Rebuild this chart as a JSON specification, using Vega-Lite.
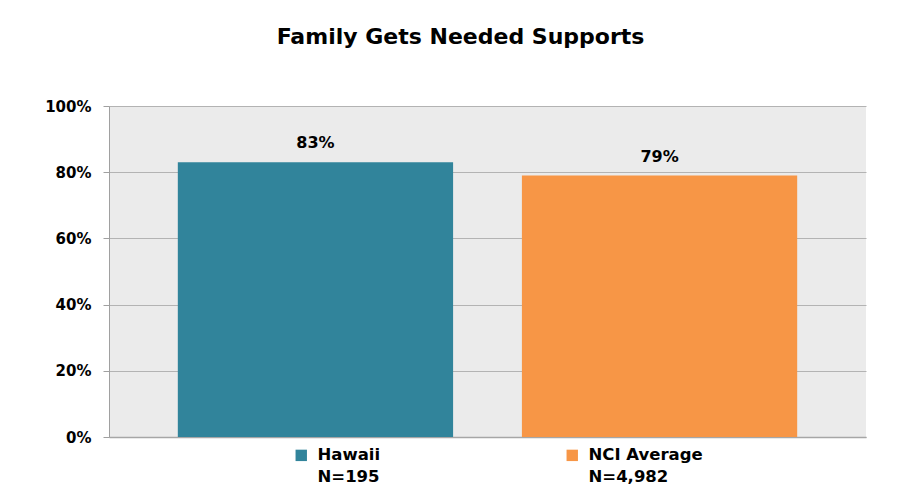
{
  "$schema": "https://vega.github.io/schema/vega-lite/v6.json",
  "width": 757,
  "height": 331,
  "autosize": {"type": "none"},
  "padding": {"left": 109, "top": 106, "right": 34, "bottom": 64},
  "background": "white",
  "title": {
    "text": "Family Gets Needed Supports",
    "font": "DejaVu Sans",
    "fontSize": 22,
    "fontWeight": "bold",
    "color": "#000000",
    "anchor": "middle",
    "dx": -27,
    "offset": 33,
    "baseline": "alphabetic"
  },
  "data": {
    "values": [
      {"group": "Hawaii", "legend": "Hawaii|\u00a0N=195", "value": 0.83},
      {"group": "NCI Average", "legend": "NCI Average|\u00a0N=4,982", "value": 0.79}
    ]
  },
  "encoding": {
    "x": {
      "field": "group",
      "type": "nominal",
      "sort": null,
      "scale": {"paddingInner": 0.2, "paddingOuter": 0.2},
      "axis": {"labels": false, "ticks": false, "title": null, "domainColor": "#a6a6a6", "domainWidth": 1.5}
    },
    "y": {
      "field": "value",
      "type": "quantitative",
      "scale": {"domain": [0, 1]},
      "axis": {
        "values": [0, 0.2, 0.4, 0.6, 0.8, 1],
        "format": ".0%",
        "title": null,
        "grid": true,
        "gridColor": "#b3b3b3",
        "gridWidth": 1.2,
        "domainColor": "#a0a0a0",
        "tickColor": "#a0a0a0",
        "tickSize": 6,
        "labelFont": "DejaVu Sans",
        "labelFontSize": 15,
        "labelFontWeight": "bold",
        "labelColor": "#000000",
        "labelPadding": 12
      }
    }
  },
  "layer": [
    {
      "mark": {"type": "bar"},
      "encoding": {
        "color": {
          "field": "legend",
          "type": "nominal",
          "sort": null,
          "scale": {"range": ["#31849b", "#f79646"]},
          "legend": {
            "title": null,
            "orient": "none",
            "legendX": 184,
            "legendY": 341,
            "direction": "horizontal",
            "columns": 2,
            "columnPadding": 183,
            "symbolType": "square",
            "symbolSize": 130,
            "symbolStrokeWidth": 0,
            "labelExpr": "split(datum.label, '|')",
            "labelFont": "DejaVu Sans",
            "labelFontSize": 16.5,
            "labelFontWeight": "bold",
            "labelColor": "#000000",
            "labelOffset": 8,
            "labelLimit": 300,
            "encode": {"labels": {"update": {"lineHeight": {"value": 22}}}}
          }
        }
      }
    },
    {
      "mark": {"type": "text", "dy": -19, "font": "DejaVu Sans", "fontSize": 16, "fontWeight": "bold", "color": "#000000"},
      "encoding": {
        "text": {"field": "value", "type": "quantitative", "format": ".0%"}
      }
    }
  ],
  "config": {
    "view": {"fill": "#ebebeb", "stroke": null}
  }
}
